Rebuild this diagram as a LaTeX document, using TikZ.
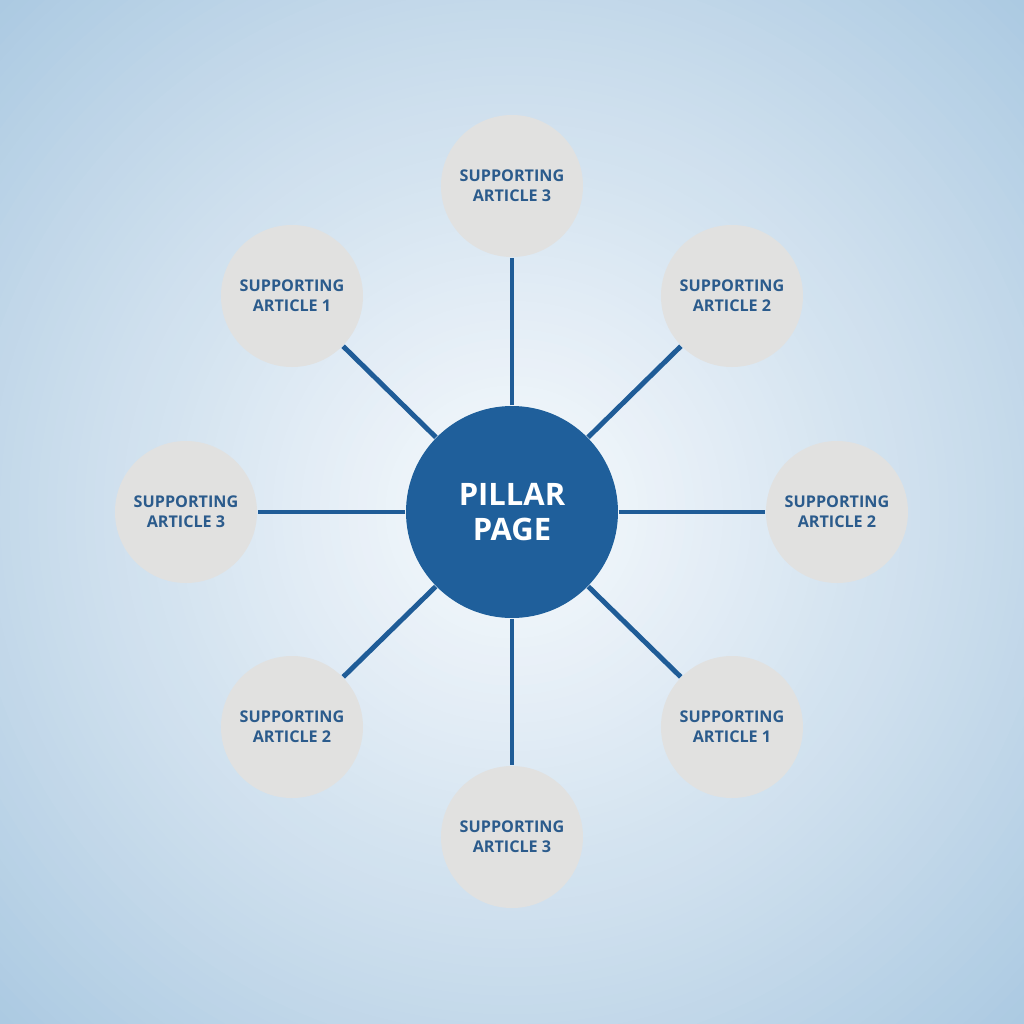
\documentclass[tikz,border=0pt]{standalone}
\usepackage{fontspec}
\setmainfont{Open Sans}
\usetikzlibrary{positioning}

\definecolor{pillarblue}{HTML}{1F5F9B}
\definecolor{linkblue}{HTML}{1F5C97}
\definecolor{articlegray}{HTML}{E1E1E0}
\definecolor{articletext}{HTML}{2B5B8C}
\definecolor{bgin}{HTML}{F4F8FC}
\definecolor{bgmid}{HTML}{C4D9EA}
\definecolor{bgout}{HTML}{ACCAE2}

\begin{document}
\begin{tikzpicture}[
  pillar/.style={circle, fill=pillarblue, text=white, minimum size=2.12cm, inner sep=0pt, align=center,
    font=\bfseries\fontsize{8.8}{9.8}\selectfont},
  article/.style={circle, fill=articlegray, text=articletext, minimum size=1.42cm, inner sep=0pt, align=center,
    font=\bfseries\fontsize{4.6}{5.7}\selectfont},
  link/.style={draw=linkblue, line width=1.4pt}]
% background, drawn as rings from the corners in
\useasboundingbox (-5.12,-5.12) rectangle (5.12,5.12);
\begin{scope}
  \clip (-5.12,-5.12) rectangle (5.12,5.12);
  \foreach \i in {0,...,20}
    \fill[bgmid!\the\numexpr\i*5\relax!bgout] (0,0) circle ({7.25-\i*0.1065});
  \foreach \i in {1,...,50}
    \fill[bgin!\the\numexpr\i*2\relax!bgmid] (0,0) circle ({5.12-\i*0.094});
\end{scope}

\node[pillar] (pillar) at (0,0) {PILLAR\\PAGE};
\node[article] (top) at (0,3.26) {SUPPORTING\\ARTICLE 3};
\node[article] (tl) at (-2.2,2.16) {SUPPORTING\\ARTICLE 1};
\node[article] (tr) at (2.2,2.16) {SUPPORTING\\ARTICLE 2};
\node[article] (lft) at (-3.26,0) {SUPPORTING\\ARTICLE 3};
\node[article] (rgt) at (3.25,0) {SUPPORTING\\ARTICLE 2};
\node[article] (bl) at (-2.2,-2.15) {SUPPORTING\\ARTICLE 2};
\node[article] (br) at (2.2,-2.15) {SUPPORTING\\ARTICLE 1};
\node[article] (bot) at (0,-3.25) {SUPPORTING\\ARTICLE 3};

\foreach \n in {top,tl,tr,lft,rgt,bl,br,bot}
  \draw[link] (pillar) -- (\n);
\end{tikzpicture}
\end{document}
